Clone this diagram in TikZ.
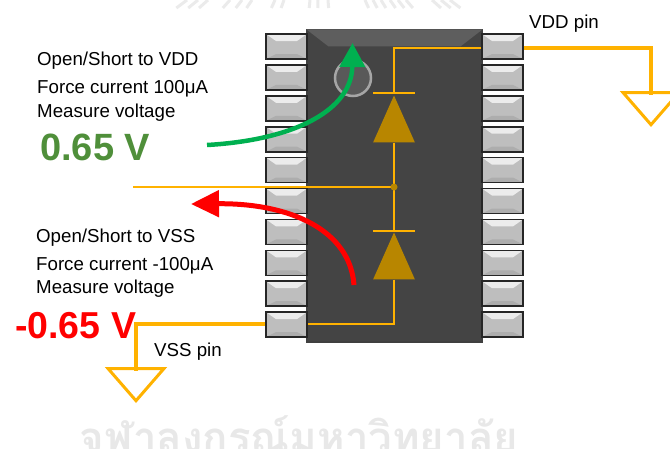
\documentclass[tikz,border=0pt]{standalone}
\usepackage{fontspec}
\setmainfont{Liberation Sans}
\newfontfamily\thaifont[Script=Thai]{Loma}
\usetikzlibrary{shapes.geometric, arrows.meta, positioning, calc}
\definecolor{WireGold}{RGB}{255, 178, 0}
\definecolor{DiodeGold}{RGB}{184, 134, 0}
\definecolor{ChipGray}{RGB}{68, 68, 68}
\definecolor{PinGray}{RGB}{190, 190, 190}
\definecolor{ArrowGreen}{RGB}{0, 176, 80}
\definecolor{TextGreen}{RGB}{79, 143, 58}

\begin{document}
\begin{tikzpicture}[
    x=1pt, y=-1pt,
    chipbox/.style={draw=black!75, line width=1.5pt, fill=ChipGray, minimum width=175pt, minimum height=312pt, inner sep=0pt},
    pinbox/.style={draw=black!85, line width=1.6pt, fill=PinGray, minimum width=41pt, minimum height=25pt, inner sep=0pt,
        path picture={
            \fill[white!70!PinGray] (path picture bounding box.north west) -- (path picture bounding box.north east)
                -- ++(-10pt,-7pt) -- ($(path picture bounding box.north west)+(10pt,-7pt)$) -- cycle;
            \fill[black!32] (path picture bounding box.south west) -- (path picture bounding box.south east)
                -- ++(-10pt,5pt) -- ($(path picture bounding box.south west)+(10pt,5pt)$) -- cycle;
        }},
    diode/.style={isosceles triangle, isosceles triangle apex angle=48, shape border rotate=90, fill=DiodeGold, minimum height=47pt, inner sep=0pt, anchor=apex},
    gnd/.style={isosceles triangle, isosceles triangle apex angle=82, shape border rotate=-90, draw=WireGold, line width=3pt, minimum height=32pt, inner sep=0pt, anchor=apex},
    thinwire/.style={draw=WireGold, line width=1.6pt},
    pinwire/.style={draw=WireGold, line width=3.2pt},
    note/.style={anchor=base west, inner sep=0pt, font=\fontsize{18.7}{18.7}\selectfont}
]
\useasboundingbox (0,0) rectangle (670,453);
% watermark
\foreach \k in {-133,-122,-112,-90,-78,-68,-45,-36,-10,-2,8,45,53,61,70,78,86,112,121,130} {
    \draw[black!8, line width=3pt] (320+\k,0) -- (320+\k*1.08,8);
}
\begin{scope}
\clip (0,400) rectangle (670,448);
\node[anchor=base, inner sep=0pt, text=black!9, font=\fontsize{42}{42}\selectfont\thaifont\bfseries] (mark) at (299,452) {จุฬาลงกรณ์มหาวิทยาลัย};
\end{scope}
% chip
\node[chipbox] (chip) at (394.5,186) {};
\fill[white!14!ChipGray] (chip.north west) -- (chip.north east) -- ++(-22pt,-17pt) -- ($(chip.north west)+(22pt,-17pt)$) -- cycle;
\foreach \i in {0,...,9} {
    \node[pinbox] (L\i) at (286.5,{46.5+30.9*\i}) {};
    \node[pinbox] (R\i) at (502.5,{46.5+30.9*\i}) {};
}
\node[circle, draw=black!35, line width=2.5pt, fill=black!65, minimum size=36pt, inner sep=0pt] (dot) at (353,78) {};
% diodes
\node[diode] (d1) at (394,95) {};
\node[diode] (d2) at (394,232) {};
\coordinate (bar1) at (394,93);
\coordinate (bar2) at (394,231);
\coordinate (jc) at (394,187);
\coordinate (probe) at (133,187);
\coordinate (top) at (394,48);
\coordinate (bot) at (394,324);
\draw[thinwire] (R0.west|-top) -- (top) -- (bar1);
\draw[thinwire] ($(bar1)+(-21,0)$) -- ($(bar1)+(21,0)$);
\draw[thinwire] ($(bar2)+(-21,0)$) -- ($(bar2)+(21,0)$);
\draw[thinwire] (d1.south) -- (jc) -- (bar2);
\draw[thinwire] (probe) -- (jc);
\draw[thinwire] (d2.south) -- (bot) -- (L9.east|-bot);
\node[circle, fill=DiodeGold, minimum size=7pt, inner sep=0pt] (junc) at (jc) {};
% ground wires
\node[gnd] (gvdd) at (651,127) {};
\node[gnd] (gvss) at (136,403) {};
\draw[pinwire] (R0.east|-top) -| (gvdd.center|-0,95);
\draw[pinwire] (L9.west|-bot) -| (gvss.center|-0,371);
% arrows
\coordinate (gstart) at (207,145);
\coordinate (gend) at (352.5,43);
\draw[ArrowGreen, line width=4.5pt, -{Triangle[length=24pt, width=25pt]}] (gstart) .. controls (295,140) and (352,110) .. (gend);
\coordinate (rstart) at (354,285);
\coordinate (rend) at (191,204);
\draw[red, line width=5pt, -{Triangle[length=28pt, width=26pt]}] (rstart) .. controls (350,230) and (290,203) .. (rend);
% labels
\node[note] (t1) at (37,65) {Open/Short to VDD};
\node[note] (t2) at (37,93) {Force current 100μA};
\node[note] (t3) at (37,117) {Measure voltage};
\node[note, text=TextGreen, font=\fontsize{38}{38}\selectfont\bfseries] (t4) at (40,160) {0.65 V};
\node[note] (t5) at (36,242) {Open/Short to VSS};
\node[note] (t6) at (36,270) {Force current -100μA};
\node[note] (t7) at (36,293) {Measure voltage};
\node[note, text=red, font=\fontsize{37.5}{37.5}\selectfont\bfseries] (t8) at (15,338) {-0.65 V};
\node[note] (vss) at (154,356) {VSS pin};
\node[note] (vdd) at (529,28) {VDD pin};
\end{tikzpicture}
\end{document}
